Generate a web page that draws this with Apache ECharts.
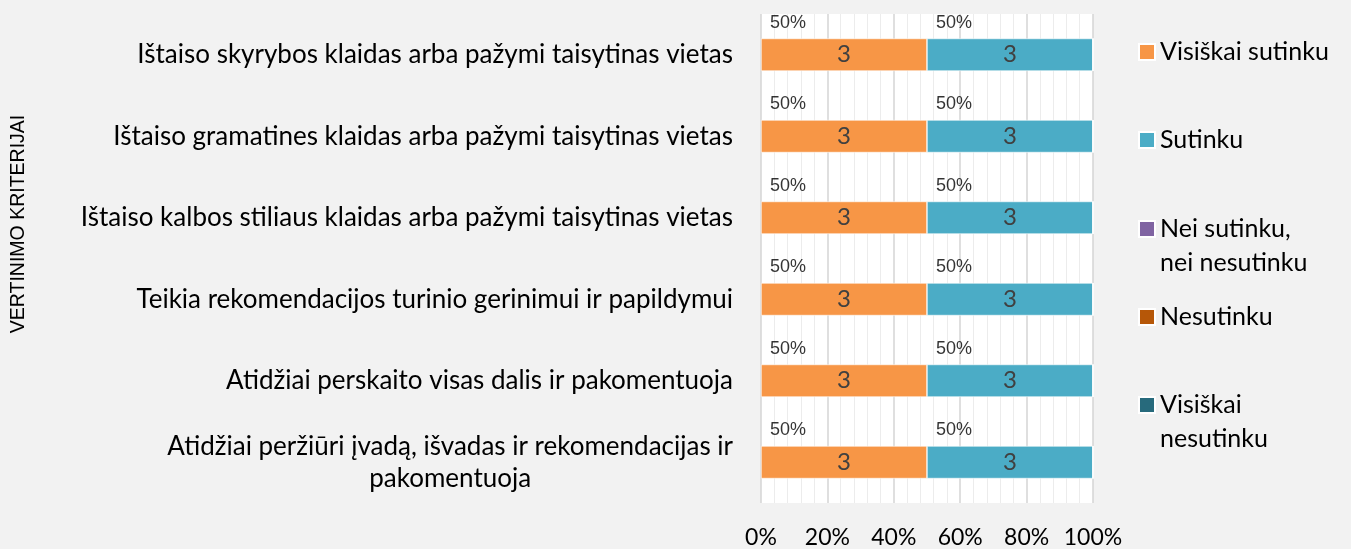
<!DOCTYPE html>
<html>
<head>
<meta charset="utf-8">
<script src="https://cdn.jsdelivr.net/npm/echarts@6/dist/echarts.min.js"></script>
<style>
html,body{margin:0;padding:0;background:#f2f2f2;}
#c{width:1351px;height:549px;}
</style>
</head>
<body>
<div id="c"></div>
<script>
const categories = [
  'Ištaiso skyrybos klaidas arba pažymi taisytinas vietas',
  'Ištaiso gramatines klaidas arba pažymi taisytinas vietas',
  'Ištaiso kalbos stiliaus klaidas arba pažymi taisytinas vietas',
  'Teikia rekomendacijos turinio gerinimui ir papildymui',
  'Atidžiai perskaito visas dalis ir pakomentuoja',
  'Atidžiai peržiūri įvadą, išvadas ir rekomendacijas ir\npakomentuoja'
];
const seriesNames = ['Visiškai sutinku', 'Sutinku', 'Nei sutinku, nei nesutinku', 'Nesutinku', 'Visiškai nesutinku'];
const legendLabels = ['Visiškai sutinku', 'Sutinku', 'Nei sutinku,\nnei nesutinku', 'Nesutinku', 'Visiškai\nnesutinku'];
const visiskaiSutinku = [3, 3, 3, 3, 3, 3];
const sutinku = [3, 3, 3, 3, 3, 3];
const neiSutinkuNeiNesutinku = [0, 0, 0, 0, 0, 0];
const nesutinku = [0, 0, 0, 0, 0, 0];
const visiskaiNesutinku = [0, 0, 0, 0, 0, 0];
const xTickLabels = ['0%', '20%', '40%', '60%', '80%', '100%'];
const colors = ['#F79646', '#4BACC6', '#8064A2', '#B65708', '#276A7C'];

const counts = [visiskaiSutinku, sutinku, neiSutinkuNeiNesutinku, nesutinku, visiskaiNesutinku];
const totals = categories.map((_, i) => counts.reduce((s, arr) => s + arr[i], 0));
const pct = counts.map(arr => arr.map((v, i) => totals[i] ? v / totals[i] * 100 : 0));

const series = [];
counts.forEach((arr, si) => {
  series.push({
    name: seriesNames[si],
    type: 'bar',
    stack: 'total',
    barWidth: '40%',
    data: pct[si],
    itemStyle: { color: colors[si], borderColor: '#ffffff', borderWidth: 0.6 },
    label: {
      show: true,
      position: 'inside',
      formatter: p => arr[p.dataIndex] > 0 ? String(arr[p.dataIndex]) : '',
      color: '#404040',
      fontFamily: 'Lato',
      fontSize: 24
    },
    emphasis: { disabled: true }
  });
});
// percentage labels above each segment
counts.forEach((arr, si) => {
  const pts = [];
  categories.forEach((c, ci) => {
    if (arr[ci] > 0) {
      let start = 0;
      for (let k = 0; k < si; k++) start += pct[k][ci];
      pts.push({ value: [start, ci], pctVal: Math.round(pct[si][ci]) + '%' });
    }
  });
  series.push({
    type: 'scatter',
    symbolSize: 0,
    silent: true,
    data: pts,
    label: {
      show: true,
      position: 'right',
      distance: 0,
      offset: [9, -32],
      formatter: p => p.data.pctVal,
      color: '#000000',
      fontFamily: 'Liberation Sans',
      fontSize: 18
    },
    emphasis: { disabled: true }
  });
});

const legendCenters = [52, 140, 229, 317, 405];
const legends = seriesNames.map((n, i) => {
  const twoLine = legendLabels[i].indexOf('\n') >= 0;
  return {
    left: 1138,
    top: twoLine ? legendCenters[i] - 51 : legendCenters[i] - 17,
    orient: 'vertical',
    padding: 0,
    itemWidth: 16,
    itemHeight: 16,
    icon: 'rect',
    selectedMode: false,
    data: [n],
    formatter: () => (twoLine ? '\n' : '') + legendLabels[i],
    textStyle: {
      fontFamily: 'Lato',
      fontSize: 25,
      color: '#000',
      lineHeight: 34
    }
  };
});

const chart = echarts.init(document.getElementById('c'), null, { renderer: 'canvas' });
chart.setOption({
  backgroundColor: '#f2f2f2',
  animation: false,
  color: colors,
  grid: { left: 761, right: 258, top: 14, bottom: 46, show: true, backgroundColor: '#ffffff', borderWidth: 0 },
  legend: legends,
  xAxis: {
    type: 'value',
    min: 0, max: 100, interval: 20,
    axisLine: { show: false },
    axisTick: { show: false },
    axisLabel: {
      formatter: v => xTickLabels[Math.round(v / 20)],
      color: '#000', fontFamily: 'Lato', fontSize: 23, margin: 23
    },
    splitLine: { show: true, lineStyle: { color: '#d4d4d4', width: 1.5 } },
    minorTick: { show: false, splitNumber: 5 },
    minorSplitLine: { show: true, lineStyle: { color: '#ececec', width: 1 } }
  },
  yAxis: {
    type: 'category',
    inverse: true,
    data: categories,
    axisLine: { show: false },
    axisTick: { show: false },
    splitLine: { show: false },
    axisLabel: {
      margin: 28,
      formatter: v => '{c|' + v + '}',
      rich: { c: { align: 'center', fontFamily: 'Lato', fontSize: 26, color: '#000', lineHeight: 32 } }
    }
  },
  graphic: [{
    type: 'text',
    x: 19, y: 224,
    rotation: Math.PI / 2,
    style: {
      text: 'VERTINIMO KRITERIJAI',
      fontFamily: 'Liberation Sans',
      fontSize: 19.5,
      fill: '#000',
      align: 'center',
      verticalAlign: 'middle'
    }
  }],
  series: series
});
</script>
</body>
</html>
